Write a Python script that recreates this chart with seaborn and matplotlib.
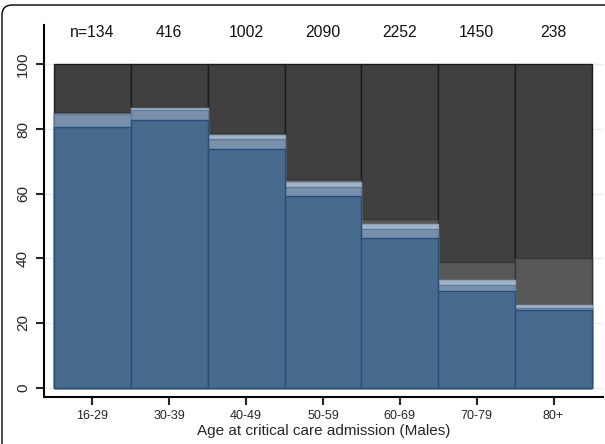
import numpy as np
import pandas as pd
import matplotlib
matplotlib.use("Agg")
import matplotlib.pyplot as plt
import seaborn as sns
from matplotlib.patches import FancyBboxPatch

age_groups = ["16-29", "30-39", "40-49", "50-59", "60-69", "70-79", "80+"]
n_patients = [134, 416, 1002, 2090, 2252, 1450, 238]

# Percentage of patients in each outcome group, stacked from the bottom up
seg_dark_blue = [80.5, 82.9, 73.9, 59.2, 46.4, 29.8, 24.0]
seg_mid_blue = [4.0, 2.9, 3.1, 2.9, 2.8, 1.9, 0.7]
seg_light_blue = [0.3, 0.6, 1.0, 1.4, 1.3, 1.5, 0.8]
seg_grey = [0.4, 0.4, 0.9, 0.9, 1.8, 5.7, 14.6]
seg_dark_grey = [14.8, 13.2, 21.1, 35.6, 47.7, 61.1, 59.9]

segments = [seg_dark_blue, seg_mid_blue, seg_light_blue, seg_grey, seg_dark_grey]
fills = ["#486a8c", "#7890aa", "#a3b6c9", "#585858", "#404040"]
edges = ["#24507e", "#5f7d9b", "#8ea3b8", "#363636", "#1c1c1c"]

sns.set_style("ticks")
plt.rcParams["font.family"] = ["Liberation Sans", "DejaVu Sans"]

fig = plt.figure(figsize=(6.05, 4.44), dpi=100)
ax = fig.add_axes([44 / 605, 47 / 444, 559 / 605, 372 / 444])

# cumulative tops; draw tallest first so lower segments sit on top
tops = np.cumsum(np.array(segments), axis=0)
for i in reversed(range(len(segments))):
    df = pd.DataFrame({"age": age_groups, "pct": tops[i]})
    sns.barplot(data=df, x="age", y="pct", order=age_groups, color=fills[i],
                saturation=1, width=1.0, edgecolor=edges[i], linewidth=1.0,
                errorbar=None, ax=ax, zorder=2)

# sample sizes above each bar
for k, n in enumerate(n_patients):
    label = f"n={n}" if k == 0 else f"{n}"
    ax.text(k, 110.0, label, ha="center", va="center", fontsize=11.3, color="#111111")

ax.set_xlim(-0.63, 6.643)
ax.set_ylim(-2.94, 112.2)
ax.set_yticks([0, 20, 40, 60, 80, 100])
ax.yaxis.grid(True, color="#e6edf1", linewidth=1.0)
ax.set_axisbelow(True)

for side in ["top", "right"]:
    ax.spines[side].set_visible(False)
for side in ["left", "bottom"]:
    ax.spines[side].set_linewidth(1.5)
    ax.spines[side].set_color("black")

ax.tick_params(axis="y", length=6, width=1.5, pad=4, labelsize=11, labelrotation=90)
for lab in ax.get_yticklabels():
    lab.set_va("center")
ax.tick_params(axis="x", length=6, width=1.5, pad=3.5, labelsize=9)
ax.set_ylabel("")
ax.set_xlabel("Age at critical care admission (Males)", fontsize=11, labelpad=1.5)

# rounded outer frame of the graph region
frame = FancyBboxPatch((0.02, -1.0), 8.0, 4.39 + 1.0,
                       boxstyle="round,pad=0,rounding_size=0.1",
                       transform=fig.dpi_scale_trans, fill=False,
                       edgecolor="black", linewidth=1.0, clip_on=False)
fig.patches.append(frame)

fig.savefig("out.png", dpi=100)
